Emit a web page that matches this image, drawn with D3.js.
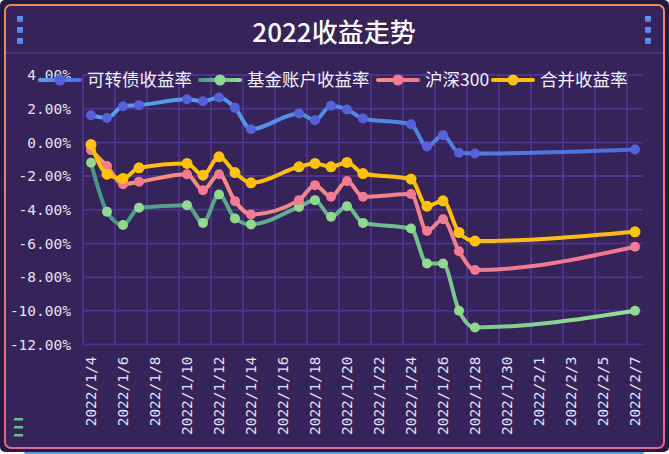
<!DOCTYPE html>
<html><head><meta charset="utf-8">
<script src="https://cdn.jsdelivr.net/npm/d3@7"></script>
<style>html,body{margin:0;padding:0;background:#fff;} svg{display:block;}</style>
</head><body>
<svg id="c" width="669" height="454"></svg>
<script>
const title = "2022收益走势";
const axisDays = ["2022/1/4","2022/1/5","2022/1/6","2022/1/7","2022/1/8","2022/1/9","2022/1/10","2022/1/11","2022/1/12","2022/1/13","2022/1/14","2022/1/15","2022/1/16","2022/1/17","2022/1/18","2022/1/19","2022/1/20","2022/1/21","2022/1/22","2022/1/23","2022/1/24","2022/1/25","2022/1/26","2022/1/27","2022/1/28","2022/1/29","2022/1/30","2022/1/31","2022/2/1","2022/2/2","2022/2/3","2022/2/4","2022/2/5","2022/2/6","2022/2/7"];
const tradeDays = ["2022/1/4","2022/1/5","2022/1/6","2022/1/7","2022/1/10","2022/1/11","2022/1/12","2022/1/13","2022/1/14","2022/1/17","2022/1/18","2022/1/19","2022/1/20","2022/1/21","2022/1/24","2022/1/25","2022/1/26","2022/1/27","2022/1/28","2022/2/7"];
const seriesNames = ["可转债收益率","基金账户收益率","沪深300","合并收益率"];
const cbValues    = [1.61,1.45,2.15,2.21,2.56,2.44,2.66,2.05,0.78,1.71,1.32,2.17,1.95,1.42,1.08,-0.25,0.43,-0.62,-0.66,-0.42];
const fundValues  = [-1.21,-4.12,-4.91,-3.88,-3.73,-4.78,-3.09,-4.52,-4.87,-3.83,-3.43,-4.42,-3.79,-4.78,-5.11,-7.19,-7.19,-10.0,-10.99,-10.0];
const hs300Values = [-0.46,-1.41,-2.48,-2.34,-1.89,-2.84,-1.89,-3.49,-4.28,-3.43,-2.54,-3.23,-2.30,-3.23,-3.07,-5.26,-4.56,-6.46,-7.58,-6.20];
const totalValues = [-0.13,-1.89,-2.14,-1.51,-1.25,-1.95,-0.86,-1.79,-2.40,-1.45,-1.25,-1.45,-1.19,-1.85,-2.18,-3.79,-3.47,-5.35,-5.86,-5.31];
const yTicks = [4,2,0,-2,-4,-6,-8,-10,-12];

const svg = d3.select("#c");
const defs = svg.append("defs");

// frame
svg.append("rect").attr("x",23).attr("y",446).attr("width",622).attr("height",8).attr("rx",4).attr("fill","#4f9be8");
svg.append("rect").attr("x",0).attr("y",0).attr("width",669).attr("height",452).attr("rx",5).attr("fill","#221b44");
const bg = defs.append("linearGradient").attr("id","brd").attr("x1",0).attr("y1",0).attr("x2",0).attr("y2",1);
bg.append("stop").attr("offset","0%").attr("stop-color","#f28766");
bg.append("stop").attr("offset","100%").attr("stop-color","#e8648a");
svg.append("rect").attr("x",5).attr("y",5).attr("width",659).attr("height",443).attr("rx",6)
  .attr("fill","#352359").attr("stroke","url(#brd)").attr("stroke-width",2);
svg.append("rect").attr("x",6).attr("y",52).attr("width",657).attr("height",2).attr("fill","#48317f");

const sq = defs.append("linearGradient").attr("id","sq").attr("x1",0).attr("y1",0).attr("x2",0).attr("y2",1);
sq.append("stop").attr("offset","0%").attr("stop-color","#5b9cf2");
sq.append("stop").attr("offset","100%").attr("stop-color","#4a7ee6");
[17,645].forEach(px => [16,27,38].forEach(py => {
  svg.append("rect").attr("x",px).attr("y",py).attr("width",6).attr("height",6).attr("rx",1).attr("fill","url(#sq)");
}));
[418,426,434].forEach(py => svg.append("rect").attr("x",14).attr("y",py).attr("width",9).attr("height",2.5).attr("fill","#6fbf8a"));

svg.append("text").attr("x",334).attr("y",42).attr("text-anchor","middle")
  .attr("font-family","'Noto Sans CJK SC','Noto Sans',sans-serif").attr("font-size",26).attr("font-weight",500)
  .attr("fill","#ffffff").text(title);

// scales
const x = d3.scaleBand().domain(axisDays).range([83,643]);
const y = d3.scaleLinear().domain([-12,4]).range([344.5,75]);
const bw = x.bandwidth();
const labelDays = axisDays.filter((d,i)=>i%2===0);
const gridC = "#4a3388";

const g = svg.append("g");
g.selectAll(".hg").data(yTicks).enter().append("line")
  .attr("x1",83).attr("x2",643).attr("y1",d=>y(d)).attr("y2",d=>y(d))
  .attr("stroke",gridC).attr("stroke-width",2);
g.selectAll(".vg").data(labelDays).enter().append("line")
  .attr("x1",d=>x(d)).attr("x2",d=>x(d)).attr("y1",75).attr("y2",344.5)
  .attr("stroke",gridC).attr("stroke-width",2);

const monoFont = "'DejaVu Sans Mono',monospace";
const yAxis = svg.append("g").attr("transform","translate(83,0)")
  .call(d3.axisLeft(y).tickValues(yTicks).tickSize(0).tickPadding(12).tickFormat(d=>d.toFixed(2)+"%"));
yAxis.select(".domain").remove();
yAxis.selectAll("text").attr("font-family",monoFont).attr("font-size",14.5).attr("fill","#e6e4f0");

const xAxis = svg.append("g").attr("transform","translate(0,344.5)")
  .call(d3.axisBottom(x).tickValues(labelDays).tickSize(0));
xAxis.select(".domain").remove();
xAxis.selectAll("text").attr("font-family",monoFont).attr("font-size",14.5).attr("fill","#e6e4f0")
  .attr("transform","rotate(-90)").attr("text-anchor","end").attr("x",-12).attr("y",0).attr("dy","0.35em");

// series
const series = [
  {name:seriesNames[0], values:cbValues, c1:"#55a3ec", c2:"#4c6cdd", dot:"#5560d9", r:5},
  {name:seriesNames[1], values:fundValues, c1:"#47958a", c2:"#96de94", dot:"#90d98f", r:5},
  {name:seriesNames[2], values:hs300Values, c1:"#f8917a", c2:"#f07592", dot:"#f27a93", r:5},
  {name:seriesNames[3], values:totalValues, c1:"#ffc000", c2:"#ffc000", dot:"#ffc300", r:5.5}
];
series.forEach((s,i)=>{
  const gr = defs.append("linearGradient").attr("id","lg"+i).attr("gradientUnits","userSpaceOnUse")
    .attr("x1",83).attr("x2",643).attr("y1",0).attr("y2",0);
  gr.append("stop").attr("offset","0%").attr("stop-color",s.c1);
  gr.append("stop").attr("offset","100%").attr("stop-color",s.c2);
  const lgi = defs.append("linearGradient").attr("id","li"+i).attr("x1",0).attr("x2",1).attr("y1",0).attr("y2",0);
  lgi.append("stop").attr("offset","0%").attr("stop-color",s.c1);
  lgi.append("stop").attr("offset","100%").attr("stop-color",s.c2);
});
const line = d3.line().x(d=>x(d.day)+bw/2).y(d=>y(d.v)).curve(d3.curveMonotoneX);
series.forEach((s,i)=>{
  const pts = tradeDays.map((d,j)=>({day:d, v:s.values[j]}));
  const sg = svg.append("g");
  sg.append("path").datum(pts).attr("d",line).attr("fill","none")
    .attr("stroke","url(#lg"+i+")").attr("stroke-width",4).attr("stroke-linejoin","round").attr("stroke-linecap","round");
  sg.selectAll("circle").data(pts).enter().append("circle")
    .attr("cx",d=>x(d.day)+bw/2).attr("cy",d=>y(d.v)).attr("r",s.r).attr("fill",s.dot);
});

// legend
const legendX = [38,198,376,491];
const lg = svg.append("g");
series.forEach((s,i)=>{
  const it = lg.append("g").attr("transform",`translate(${legendX[i]},80)`);
  it.append("rect").attr("x",0).attr("y",-2).attr("width",44).attr("height",4).attr("rx",2).attr("fill","url(#li"+i+")");
  it.append("circle").attr("cx",22).attr("cy",0).attr("r",5.5).attr("fill",s.dot);
  it.append("text").attr("x",49).attr("y",0).attr("dy","0.36em")
    .attr("font-family","'Noto Sans CJK SC','Noto Sans',sans-serif").attr("font-size",17.5)
    .attr("fill","#f2f0f8").text(s.name);
});
</script>
</body></html>
